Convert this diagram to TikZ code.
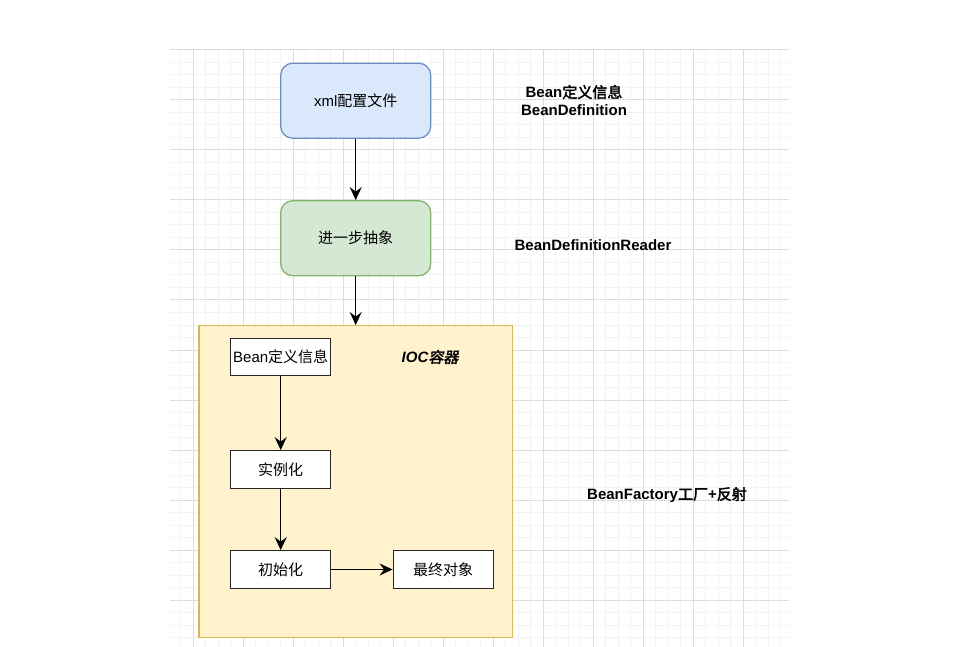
\documentclass[tikz,border=0pt]{standalone}
\usepackage{fontspec}
\setmainfont{Liberation Sans}
\newfontfamily\cjk{Noto Sans CJK SC}[AutoFakeBold=2.5,AutoFakeSlant=0.2]
\usetikzlibrary{arrows.meta}
\definecolor{bluefill}{HTML}{DAE8FC}
\definecolor{bluedraw}{HTML}{6C8EBF}
\definecolor{greenfill}{HTML}{D5E8D4}
\definecolor{greendraw}{HTML}{82B366}
\definecolor{yellowfill}{HTML}{FFF2CC}
\definecolor{yellowdraw}{HTML}{D6B656}
\definecolor{gridminor}{HTML}{F3F3F3}
\definecolor{gridmajor}{HTML}{DCDCDC}
\begin{document}
\begin{tikzpicture}[x=1pt,y=-1pt,
  minorline/.style={draw=gridminor,line width=1pt},
  majorline/.style={draw=gridmajor,line width=1pt},
  rbox/.style={draw,rounded corners=12pt,line width=1.25pt,minimum width=150pt,minimum height=75pt,inner sep=0pt,font=\fontsize{15}{18}\selectfont},
  sbox/.style={draw=black!85,fill=white,line width=1.25pt,minimum width=100pt,minimum height=37.5pt,inner sep=0pt,font=\fontsize{15}{18}\selectfont},
  lbl/.style={font=\fontsize{15}{18}\selectfont\bfseries,align=center,inner sep=0pt},
  conn/.style={draw=black,line width=1.4pt,-{Stealth[length=13pt,width=12pt,inset=4.5pt]}}
]
\useasboundingbox[fill=white] (0,0) rectangle (959,647);
\begin{scope}
  \clip (170,50) rectangle (789,647);
  \foreach \i in {0,...,50} {
    \draw[minorline] ({168.3+12.5*\i},50) -- ({168.3+12.5*\i},647);
    \draw[minorline] (170,{50+12.5*\i}) -- (789,{50+12.5*\i});
  }
  \foreach \i in {0,...,12} {
    \draw[majorline] ({193.3+50*\i},50) -- ({193.3+50*\i},647);
    \draw[majorline] (170,{50+50*\i}) -- (789,{50+50*\i});
  }
\end{scope}

\node[rbox,fill=bluefill,draw=bluedraw] (xml) at (355.7,100.7) {xml{\cjk 配置文件}};
\node[rbox,fill=greenfill,draw=greendraw] (abs) at (355.7,238.2) {{\cjk 进一步抽象}};

\node[draw=yellowdraw,fill=yellowfill,line width=1.25pt,minimum width=313.3pt,minimum height=312pt,inner sep=0pt] (ioc) at (355.7,481.7) {};
\node[font=\fontsize{15}{18}\selectfont\bfseries\itshape,inner sep=0pt] (ioclabel) at (430,357) {IOC{\cjk 容器}};

\node[sbox] (def) at (280.7,357) {Bean{\cjk 定义信息}};
\node[sbox] (inst) at (280.7,469.5) {{\cjk 实例化}};
\node[sbox] (init) at (280.7,569.5) {{\cjk 初始化}};
\node[sbox] (final) at (443.2,569.5) {{\cjk 最终对象}};

\draw[conn] (xml) -- (abs);
\draw[conn] (abs) -- (ioc.north);
\draw[conn] (def) -- (inst);
\draw[conn] (inst) -- (init);
\draw[conn] (init) -- (final);

\node[lbl] (beandef) at (574,100.5) {Bean{\cjk 定义信息}\\BeanDefinition};
\node[lbl] (reader) at (593,245) {BeanDefinitionReader};
\node[lbl] (factory) at (667,495) {BeanFactory{\cjk 工厂}+{\cjk 反射}};
\end{tikzpicture}
\end{document}
